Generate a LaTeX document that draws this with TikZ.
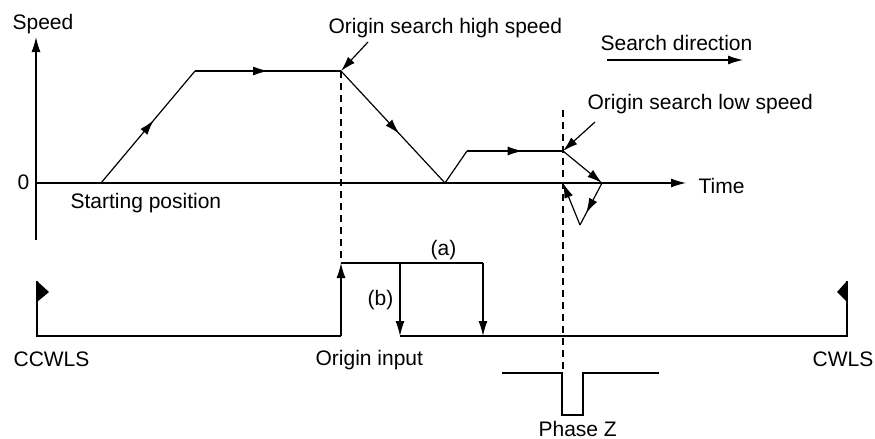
\documentclass[tikz,border=0pt]{standalone}
\usepackage{fontspec}
\setmainfont{Liberation Sans}
\usetikzlibrary{arrows.meta,decorations.markings,positioning}

\begin{document}
\begin{tikzpicture}[
        x=0.5pt, y=-0.5pt,
        line width=0.6pt,
        % labels are placed by their base line
        lbl/.style={anchor=base west, inner sep=0pt, font=\fontsize{10.5}{12}\selectfont},
        tip/.style={-{Latex[length=7.5pt,width=4.5pt]}},
        midarrow/.style={postaction={decorate}, decoration={markings,
            mark=at position #1 with {\arrow{Latex[length=7.5pt,width=4.5pt]}}}},
        guide/.style={dash pattern=on 3.5pt off 2.5pt}
    ]
        \useasboundingbox (0,0) rectangle (875,439);

        % axes
        \coordinate (ybot) at (36,240);
        \coordinate (ytop) at (36,37);
        \coordinate (orig) at (36,183);
        \coordinate (xend) at (686,183);
        \draw[tip] (ybot) -- (ytop);
        \draw[tip] (orig) -- (xend);

        % speed profile
        \coordinate (start) at (101,183);
        \coordinate (hi1) at (195,71);
        \coordinate (hi2) at (341,71);
        \coordinate (rev) at (445,183);
        \coordinate (lo1) at (467,151);
        \coordinate (lo2) at (563,151);
        \coordinate (over) at (602,183);
        \coordinate (back) at (580,225);
        \coordinate (stop) at (563,183);
        \draw[midarrow=0.56] (start) -- (hi1);
        \draw[midarrow=0.5] (hi1) -- (hi2);
        \draw[midarrow=0.56] (hi2) -- (rev);
        \draw (rev) -- (lo1);
        \draw[midarrow=0.58] (lo1) -- (lo2);
        \draw[tip] (lo2) -- (over);
        \draw[midarrow=0.72] (over) -- (back);
        \draw[tip] (back) -- (stop);

        % limit switches and origin input
        \coordinate (ccwtop) at (37,281);
        \coordinate (ccwbot) at (37,336);
        \coordinate (orglo) at (341,336);
        \coordinate (orghi) at (341,263);
        \coordinate (bhi) at (400,263);
        \coordinate (blo) at (400,336);
        \coordinate (ahi) at (483,263);
        \coordinate (alo) at (483,336);
        \coordinate (cwbot) at (847,336);
        \coordinate (cwtop) at (847,281);
        \draw (ccwtop) -- (ccwbot) -- (orglo);
        \draw[tip] (orglo) -- (orghi);
        \draw (orghi) -- (ahi);
        \draw[tip] (bhi) -- (blo);
        \draw[tip] (ahi) -- (alo);
        \draw (blo) -- (cwbot) -- (cwtop);
        \fill (ccwtop) -- (49,292) -- (37,302) -- cycle;
        \fill (cwtop) -- (837,292) -- (847,302) -- cycle;

        % phase Z pulse
        \coordinate (z1) at (502,373);
        \coordinate (z2) at (562,373);
        \coordinate (z3) at (583,373);
        \coordinate (z4) at (659,373);
        \draw (z1) -- (z2) -- (562,415) -- (583,415) -- (z3) -- (z4);

        % guides
        \coordinate (ztop) at (563,110);
        \draw[guide] (hi2) -- (orghi);
        \draw[guide] (ztop) -- (563,373);

        % labels
        \node[lbl] (speed) at (12,29) {Speed};
        \node[lbl] (zero) at (17,190) {0};
        \node[lbl] (time) at (698,193) {Time};
        \node[lbl] (startlbl) at (70,208) {Starting position};
        \node[lbl] (hilbl) at (328,33) {Origin search high speed};
        \node[lbl] (lolbl) at (587,110) {Origin search low speed};
        \node[lbl] (dirlbl) at (600,50) {Search direction};
        \node[lbl] (albl) at (430,255) {(a)};
        \node[lbl] (blbl) at (367,305) {(b)};
        \node[lbl] (ccwlbl) at (13,366) {CCWLS};
        \node[lbl] (orglbl) at (315,365) {Origin input};
        \node[lbl] (cwlbl) at (812,366) {CWLS};
        \node[lbl] (zlbl) at (538,436) {Phase Z};

        % pointers
        \coordinate (hitail) at (368,42);
        \coordinate (lotail) at (595,122);
        \coordinate (dir1) at (607,60);
        \coordinate (dir2) at (743,60);
        \draw[tip] (hitail) -- (hi2);
        \draw[tip] (lotail) -- (lo2);
        \draw[tip] (dir1) -- (dir2);
    \end{tikzpicture}
\end{document}
